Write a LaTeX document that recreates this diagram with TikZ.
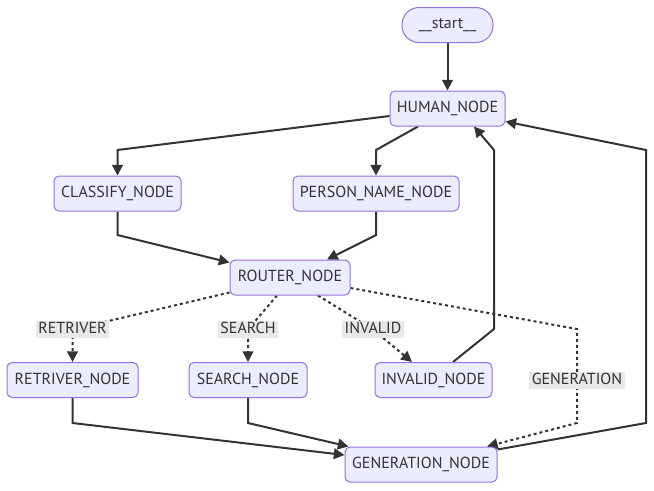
\documentclass[tikz,border=0pt]{standalone}
\usepackage{fontspec}
\setmainfont{PT Sans}
\usetikzlibrary{arrows.meta,calc}
\pgfdeclarelayer{bg}
\pgfsetlayers{bg,main}
\definecolor{nodefill}{HTML}{ECECFF}
\definecolor{nodeline}{HTML}{9370DB}
\definecolor{ink}{HTML}{333333}
\definecolor{labfill}{HTML}{E8E8E8}
\begin{document}
\begin{tikzpicture}[x=0.75pt,y=-0.75pt,
 box/.style={draw=nodeline,fill=nodefill,line width=0.75pt,rounded corners=3.75pt,minimum height=26.25pt,inner sep=0pt,text=ink,font=\fontsize{12}{14}\selectfont},
 pill/.style={box,rounded corners=12.75pt},
 lab/.style={fill=labfill,inner xsep=2pt,inner ysep=0pt,text height=9.5pt,text depth=3.25pt,text=ink,font=\fontsize{12}{14}\selectfont},
 edge/.style={draw=ink,line width=1.5pt,-{Triangle[length=8pt,width=8pt]}},
 cond/.style={edge,dash pattern=on 2.25pt off 2.25pt}]
\useasboundingbox (0,0) rectangle (654,490);
% nodes
\node[pill,minimum width=68.25pt] (start) at (447.5,25) {\_\_start\_\_};
\node[box,minimum width=86.25pt] (human) at (447.5,108.5) {HUMAN\_NODE};
\node[box,minimum width=95.25pt] (classify) at (117.5,193.5) {CLASSIFY\_NODE};
\node[box,minimum width=124.5pt] (person) at (376,193.5) {PERSON\_NAME\_NODE};
\node[box,minimum width=90pt] (router) at (290,277.5) {ROUTER\_NODE};
\node[box,minimum width=98.25pt] (retriver) at (72.5,380) {RETRIVER\_NODE};
\node[box,minimum width=88.5pt] (search) at (248,380) {SEARCH\_NODE};
\node[box,minimum width=87.75pt] (invalid) at (433.5,380) {INVALID\_NODE};
\node[box,minimum width=114pt] (generation) at (421,464.5) {GENERATION\_NODE};
% edge labels
\node[lab] (lR) at (72.5,329.5) {RETRIVER};
\node[lab] (lS) at (248,329.5) {SEARCH};
\node[lab] (lI) at (373,329.5) {INVALID};
\node[lab] (lG) at (577,380) {GENERATION};
\begin{pgfonlayer}{bg}
\draw[edge] (start.south) -- (human.north);
\draw[edge] ($(human.west)+(0,7.5)$) -- (classify.north |- 0,150) -- (classify.north);
\draw[edge] ($(human.south)+(-29.5,0)$) -- (person.north |- 0,150) -- (person.north);
\draw[edge] (classify.south) -- (classify.south |- 0,235) -- ($(router.north west)+(0,3)$);
\draw[edge] (person.south) -- (person.south |- 0,235) -- ($(router.north)+(37,0)$);
\draw[cond] ($(router.south west)+(0,-3)$) -- (lR.center) -- (retriver.north);
\draw[cond] ($(router.south)+(-13,0)$) -- (lS.center) -- (search.north);
\draw[cond] ($(router.south)+(28,0)$) -- (lI.center) -- ($(invalid.north)+(-21.5,0)$);
\draw[cond] ($(router.east)+(0,10.5)$) -- (lG.center |- 0,329) -- (lG.center) -- (lG.center |- 0,423) -- ($(generation.north)+(66,0)$);
\draw[edge] ($(invalid.north)+(19.5,0)$) -- (494,329) -- (494,150) -- ($(human.south)+(26.5,0)$);
\draw[edge] (retriver.south) -- (retriver.south |- 0,423) -- ($(generation.west)+(0,-9.5)$);
\draw[edge] (search.south) -- (search.south |- 0,423) -- ($(generation.north west)+(4,0)$);
\draw[edge] ($(generation.north east)+(0,3)$) -- (646,423) -- (646,150) -- ($(human.east)+(0,13)$);
\end{pgfonlayer}
\end{tikzpicture}
\end{document}
